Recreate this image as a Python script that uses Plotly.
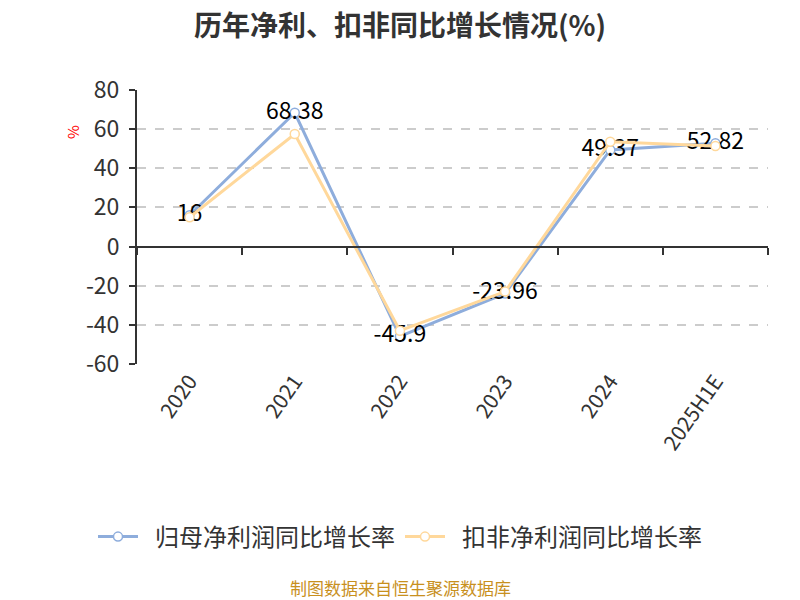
import plotly.graph_objects as go

categories = ["2020", "2021", "2022", "2023", "2024", "2025H1E"]
net_profit_growth = [16, 68.38, -45.9, -23.96, 49.37, 52.82]
deducted_growth = [15, 57.5, -43.0, -23.0, 53.6, 51.4]
net_labels = ["16", "68.38", "-45.9", "-23.96", "49.37", "52.82"]
y_ticks = [-60, -40, -20, 0, 20, 40, 60, 80]
y_tick_labels = ["-60", "-40", "-20", "0", "20", "40", "60", "80"]

BLUE = "#8EADDC"
ORANGE = "#FFD89B"
FONT = "Noto Sans CJK SC"

# page body has an 8px margin; compensate
OFF = 8
FIG_W, FIG_H = 800 - OFF, 600 - OFF
PLOT_L, PLOT_R, PLOT_T, PLOT_B = 137 - OFF, 768 - OFF, 90 - OFF, 364 - OFF
H = PLOT_B - PLOT_T
W = PLOT_R - PLOT_L

fig = go.Figure()

fig.add_trace(go.Scatter(
    x=categories, y=net_profit_growth, name="\u2002归母净利润同比增长率",
    mode="lines+markers+text", text=net_labels, textposition="middle center",
    textfont=dict(size=23, color="#000000", family=FONT),
    line=dict(color=BLUE, width=3),
    marker=dict(symbol="circle", size=9, color="white", line=dict(color=BLUE, width=1.5)),
))
fig.add_trace(go.Scatter(
    x=categories, y=deducted_growth, name="\u2002扣非净利润同比增长率",
    mode="lines+markers",
    line=dict(color=ORANGE, width=3),
    marker=dict(symbol="circle", size=9, color="white", line=dict(color=ORANGE, width=1.5)),
))
# helper trace for zero-line category axis
fig.add_trace(go.Scatter(
    x=categories, y=[None] * len(categories), xaxis="x2", showlegend=False,
    hoverinfo="skip", mode="lines",
))

fig.update_layout(
    width=FIG_W, height=FIG_H,
    margin=dict(l=PLOT_L, r=FIG_W - PLOT_R, t=PLOT_T, b=FIG_H - PLOT_B),
    paper_bgcolor="white", plot_bgcolor="white",
    font=dict(family=FONT, color="#333333"),
    title=dict(text="<b>历年净利、扣非同比增长情况(%)</b>", x=(400 - OFF) / FIG_W,
               xanchor="center", y=1 - (26 - OFF) / FIG_H, yanchor="middle",
               font=dict(size=28, color="#333333", family=FONT)),
    xaxis=dict(type="category", categoryarray=categories, showline=False, ticks="",
               showgrid=False, zeroline=False, tickangle=-55,
               tickfont=dict(size=21, color="#333333"), range=[-0.5, 5.5]),
    xaxis2=dict(type="category", categoryarray=categories, overlaying="x", anchor="free",
                position=60 / 140, showline=True, linecolor="#333333", linewidth=2,
                ticks="outside", tickson="boundaries", ticklen=7, tickwidth=2,
                tickcolor="#333333", showticklabels=False, showgrid=False,
                zeroline=False, range=[-0.5, 5.5]),
    yaxis=dict(range=[-60, 80], tickvals=y_ticks, ticktext=y_tick_labels, showline=True,
               linecolor="#333333", linewidth=2, ticks="outside", ticklen=6, tickwidth=2,
               tickcolor="#333333", showgrid=True, gridcolor="#cccccc", griddash="dash",
               gridwidth=1.5, zeroline=False, ticklabelstandoff=5,
               tickfont=dict(size=23, color="#333333")),
    legend=dict(orientation="h", x=(400 - OFF - PLOT_L) / W, xanchor="center",
                y=-(537 - 364) / H, yanchor="middle",
                font=dict(size=24, color="#333333"), itemwidth=40),
    annotations=[
        dict(text="%", xref="paper", yref="paper", x=-(137 - 72) / W, y=(364 - 132) / H,
             showarrow=False, textangle=-90, font=dict(size=15, color="#ff0000"),
             xanchor="center", yanchor="middle"),
        dict(text="制图数据来自恒生聚源数据库", xref="paper", yref="paper",
             x=(400 - OFF - PLOT_L) / W,
             y=-(587 - 364) / H, showarrow=False, xanchor="center", yanchor="middle",
             font=dict(size=17, color="#C8901E")),
    ],
)

fig.write_html("out.html")
